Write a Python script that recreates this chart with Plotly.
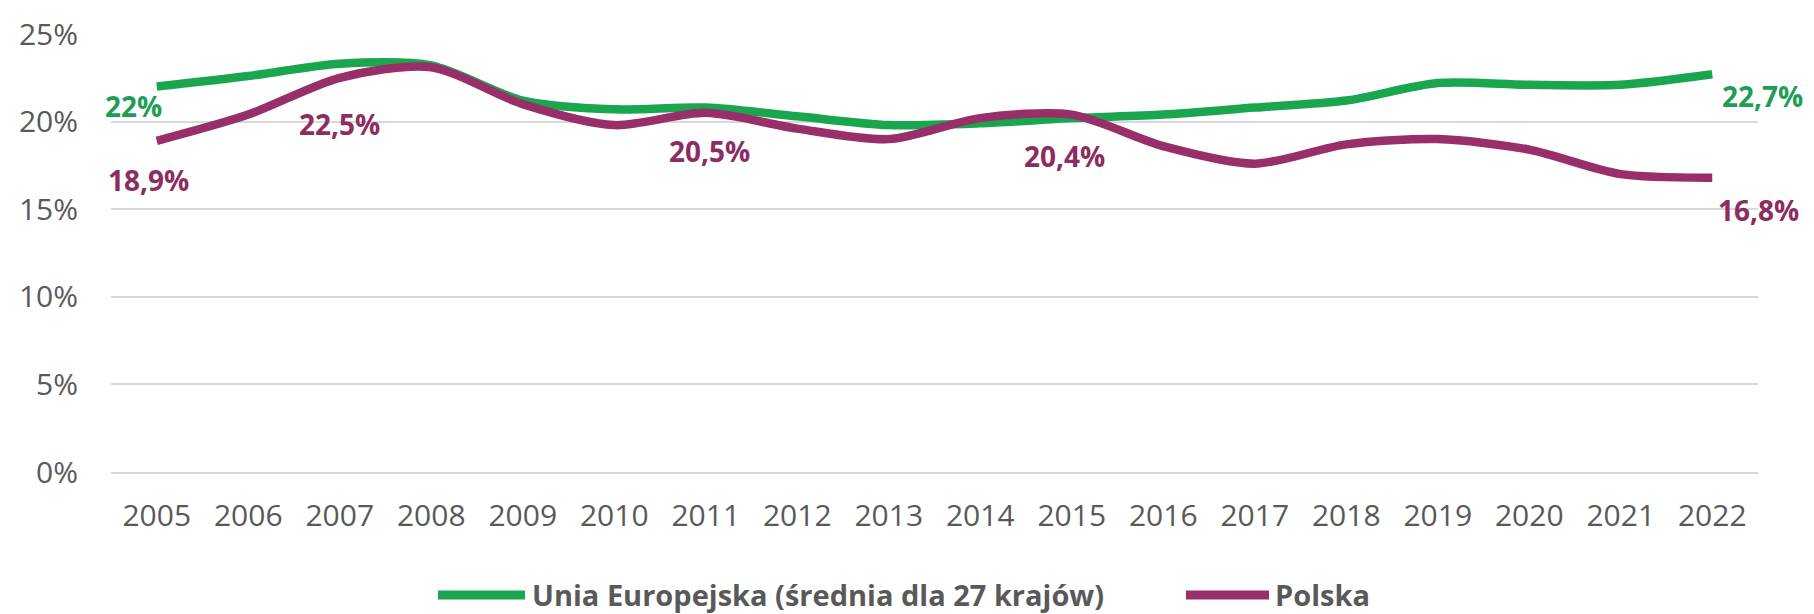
import plotly.graph_objects as go

# --- data -------------------------------------------------------------
years = [str(y) for y in range(2005, 2023)]
eu_values = [22.0, 22.6, 23.3, 23.2, 21.2, 20.7, 20.8, 20.3, 19.8, 19.9,
             20.2, 20.4, 20.8, 21.2, 22.2, 22.1, 22.1, 22.7]
pl_values = [18.9, 20.4, 22.5, 23.1, 21.0, 19.8, 20.5, 19.6, 19.0, 20.2,
             20.4, 18.6, 17.6, 18.7, 19.0, 18.4, 17.0, 16.8]
series_names = ["Unia Europejska (średnia dla 27 krajów)", "Polska"]
y_ticks = [0, 5, 10, 15, 20, 25]
y_tick_text = ["0%", "5%", "10%", "15%", "20%", "25%"]

# years that carry a value label, per series
eu_label_years = ["2005", "2022"]
pl_label_years = ["2005", "2007", "2011", "2015", "2022"]

# --- styling ----------------------------------------------------------
GREEN = "#1aa54f"
GREEN_TXT = "#1f9d55"
PURPLE = "#982f68"
PURPLE_TXT = "#8c2c60"
GREY = "#595959"
GRID = "#d9d9d9"
W, H = 1814, 614
M_L, M_R, M_T, M_B = 111, 56, 30, 142
PLOT_W = W - M_L - M_R
PLOT_H = H - M_T - M_B

x_pos = list(range(len(years)))


def fmt(v):
    s = f"{v:.1f}".rstrip("0").rstrip(".")
    return s.replace(".", ",") + "%"


fig = go.Figure()
for name, vals, color in [(series_names[0], eu_values, GREEN),
                          (series_names[1], pl_values, PURPLE)]:
    fig.add_trace(go.Scatter(
        x=x_pos, y=vals, name=name, mode="lines",
        line=dict(color=color, width=8.5, shape="spline", smoothing=0.8),
        showlegend=False, customdata=years,
        hovertemplate="%{customdata}: %{y}<extra></extra>",
    ))

# value labels (pixel offsets from the data point)
eu_offsets = {"2005": (-23, -19), "2022": (50, -22)}
pl_offsets = {"2005": (-8, -39), "2007": (0, -46), "2011": (4, -38),
              "2015": (-7, -41), "2022": (46, -32)}
annotations = []
for label_years, vals, offsets, color in [
        (eu_label_years, eu_values, eu_offsets, GREEN_TXT),
        (pl_label_years, pl_values, pl_offsets, PURPLE_TXT)]:
    for yr in label_years:
        i = years.index(yr)
        dx, dy = offsets[yr]
        annotations.append(dict(
            x=i, y=vals[i], xref="x", yref="y", text="<b>" + fmt(vals[i]) + "</b>",
            showarrow=False, xshift=dx, yshift=dy,
            font=dict(family="Open Sans", size=28, color=color)))


# legend drawn with shapes + text, positioned in pixels
def px_x(px):
    return (px - M_L) / PLOT_W


def px_y(py):
    return (H - M_B - py) / PLOT_H


shapes = []
legend_items = [(series_names[0], GREEN, 438, 525, 530),
                (series_names[1], PURPLE, 1186, 1269, 1273)]
LEG_Y = 596
for name, color, x0, x1, tx in legend_items:
    shapes.append(dict(type="line", xref="paper", yref="paper",
                       x0=px_x(x0), x1=px_x(x1), y0=px_y(LEG_Y), y1=px_y(LEG_Y),
                       line=dict(color=color, width=9)))
    annotations.append(dict(
        x=px_x(tx), y=px_y(LEG_Y), xref="paper", yref="paper",
        xanchor="left", yanchor="middle", showarrow=False,
        text="<b>" + name + "</b>",
        font=dict(family="Open Sans", size=29, color=GREY)))

fig.update_layout(
    width=W, height=H,
    margin=dict(l=M_L, r=M_R, t=M_T, b=M_B, pad=0),
    paper_bgcolor="white", plot_bgcolor="white",
    font=dict(family="Open Sans", color=GREY),
    annotations=annotations, shapes=shapes,
    showlegend=False,
)
fig.update_xaxes(
    range=[-0.5, len(years) - 0.5], tickvals=x_pos, ticktext=years,
    showgrid=False, zeroline=False, showline=True, linecolor=GRID, linewidth=2,
    ticks="", tickfont=dict(size=30, color=GREY), ticklabelstandoff=16,
    fixedrange=True,
)
fig.update_yaxes(
    range=[0, 25], tickvals=y_ticks, ticktext=y_tick_text,
    showgrid=True, gridcolor=GRID, gridwidth=2, zeroline=False,
    showline=False, ticks="", tickfont=dict(size=30, color=GREY),
    ticklabelstandoff=32, fixedrange=True,
)

fig.write_html("out.html", config={"displayModeBar": False, "responsive": False})
